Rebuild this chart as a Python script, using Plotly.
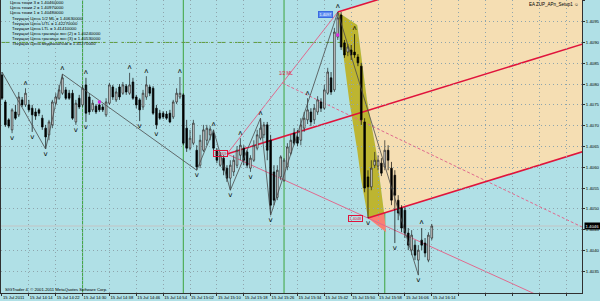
import numpy as np
import plotly.graph_objects as go
from datetime import datetime, timedelta

# ---------------- data (EURUSD-like M1, 15 Jul 2011 14:06 .. 16:14) ----------------
start_time = datetime(2011, 7, 15, 14, 6)

open_ = [1.40822, 1.40757, 1.40714, 1.40690, 1.40733, 1.40726, 1.40762, 1.40750, 1.40750, 1.40742,
         1.40733, 1.40738, 1.40718, 1.40694, 1.40678, 1.40702, 1.40754, 1.40766, 1.40778, 1.40786,
         1.40778, 1.40778, 1.40709, 1.40766, 1.40750, 1.40798, 1.40769, 1.40738, 1.40747, 1.40750,
         1.40745, 1.40726, 1.40754, 1.40793, 1.40762, 1.40793, 1.40778, 1.40795, 1.40778, 1.40805,
         1.40769, 1.40762, 1.40745, 1.40769, 1.40793, 1.40790, 1.40742, 1.40730, 1.40730, 1.40728,
         1.40730, 1.40721, 1.40757, 1.40769, 1.40774, 1.40694, 1.40646, 1.40658, 1.40641, 1.40605,
         1.40641, 1.40665, 1.40678, 1.40682, 1.40641, 1.40605, 1.40622, 1.40598, 1.40574, 1.40589,
         1.40605, 1.40629, 1.40646, 1.40637, 1.40598, 1.40617, 1.40646, 1.40670, 1.40678, 1.40702,
         1.40665, 1.40589, 1.40528, 1.40577, 1.40569, 1.40601, 1.40634, 1.40682, 1.40673, 1.40665,
         1.40694, 1.40714, 1.40733, 1.40714, 1.40733, 1.40757, 1.40742, 1.40778, 1.40815, 1.40786,
         1.40913, 1.40966, 1.40899, 1.40877, 1.40882, 1.40877, 1.40865, 1.40843, 1.40709, 1.40577,
         1.40553, 1.40605, 1.40603, 1.40610, 1.40601, 1.40641, 1.40598, 1.40581, 1.40521, 1.40502,
         1.40497, 1.40442, 1.40401, 1.40413, 1.40377, 1.40425, 1.40418, 1.40377, 1.40430]
high = [1.40829, 1.40762, 1.40718, 1.40742, 1.40750, 1.40781, 1.40769, 1.40790, 1.40762, 1.40750,
        1.40742, 1.40742, 1.40726, 1.40702, 1.40714, 1.40762, 1.40778, 1.40798, 1.40824, 1.40793,
        1.40786, 1.40786, 1.40762, 1.40774, 1.40798, 1.40815, 1.40778, 1.40762, 1.40752, 1.40757,
        1.40752, 1.40766, 1.40803, 1.40798, 1.40790, 1.40800, 1.40805, 1.40800, 1.40827, 1.40815,
        1.40774, 1.40766, 1.40786, 1.40819, 1.40798, 1.40795, 1.40750, 1.40738, 1.40735, 1.40735,
        1.40738, 1.40762, 1.40790, 1.40817, 1.40778, 1.40714, 1.40690, 1.40714, 1.40653, 1.40678,
        1.40702, 1.40702, 1.40699, 1.40690, 1.40646, 1.40637, 1.40629, 1.40605, 1.40617, 1.40629,
        1.40651, 1.40670, 1.40653, 1.40641, 1.40629, 1.40665, 1.40690, 1.40718, 1.40709, 1.40709,
        1.40678, 1.40605, 1.40605, 1.40629, 1.40622, 1.40658, 1.40678, 1.40694, 1.40690, 1.40718,
        1.40733, 1.40766, 1.40742, 1.40752, 1.40771, 1.40766, 1.40798, 1.40839, 1.40829, 1.40935,
        1.40973, 1.40973, 1.40906, 1.40896, 1.40894, 1.40920, 1.40872, 1.40851, 1.40718, 1.40593,
        1.40617, 1.40637, 1.40629, 1.40622, 1.40665, 1.40653, 1.40613, 1.40593, 1.40533, 1.40509,
        1.40504, 1.40454, 1.40449, 1.40425, 1.40413, 1.40454, 1.40430, 1.40444, 1.40464]
low = [1.40762, 1.40697, 1.40694, 1.40682, 1.40714, 1.40721, 1.40745, 1.40745, 1.40733, 1.40685,
       1.40714, 1.40723, 1.40690, 1.40644, 1.40665, 1.40694, 1.40750, 1.40762, 1.40774, 1.40762,
       1.40762, 1.40714, 1.40702, 1.40740, 1.40745, 1.40709, 1.40726, 1.40733, 1.40728, 1.40733,
       1.40733, 1.40721, 1.40750, 1.40762, 1.40757, 1.40762, 1.40774, 1.40774, 1.40774, 1.40762,
       1.40742, 1.40711, 1.40738, 1.40762, 1.40771, 1.40726, 1.40692, 1.40714, 1.40716, 1.40714,
       1.40706, 1.40716, 1.40752, 1.40764, 1.40653, 1.40637, 1.40641, 1.40653, 1.40593, 1.40598,
       1.40637, 1.40653, 1.40665, 1.40641, 1.40610, 1.40601, 1.40581, 1.40565, 1.40545, 1.40579,
       1.40598, 1.40617, 1.40605, 1.40598, 1.40589, 1.40613, 1.40641, 1.40665, 1.40670, 1.40617,
       1.40485, 1.40509, 1.40521, 1.40569, 1.40565, 1.40593, 1.40629, 1.40653, 1.40651, 1.40653,
       1.40685, 1.40704, 1.40699, 1.40704, 1.40726, 1.40733, 1.40738, 1.40774, 1.40774, 1.40781,
       1.40906, 1.40882, 1.40863, 1.40867, 1.40858, 1.40863, 1.40843, 1.40702, 1.40540, 1.40478,
       1.40545, 1.40598, 1.40593, 1.40579, 1.40593, 1.40593, 1.40509, 1.40418, 1.40473, 1.40444,
       1.40430, 1.40401, 1.40389, 1.40377, 1.40341, 1.40401, 1.40384, 1.40372, 1.40425]
close = [1.40766, 1.40702, 1.40699, 1.40738, 1.40718, 1.40769, 1.40750, 1.40778, 1.40738, 1.40726,
         1.40723, 1.40730, 1.40697, 1.40673, 1.40709, 1.40757, 1.40769, 1.40786, 1.40815, 1.40766,
         1.40766, 1.40718, 1.40754, 1.40745, 1.40790, 1.40730, 1.40733, 1.40754, 1.40733, 1.40738,
         1.40738, 1.40757, 1.40798, 1.40769, 1.40781, 1.40769, 1.40798, 1.40781, 1.40798, 1.40766,
         1.40750, 1.40738, 1.40778, 1.40798, 1.40778, 1.40730, 1.40702, 1.40718, 1.40721, 1.40718,
         1.40709, 1.40757, 1.40778, 1.40778, 1.40658, 1.40646, 1.40670, 1.40706, 1.40601, 1.40665,
         1.40690, 1.40694, 1.40692, 1.40646, 1.40617, 1.40629, 1.40593, 1.40574, 1.40605, 1.40617,
         1.40641, 1.40653, 1.40617, 1.40605, 1.40622, 1.40653, 1.40678, 1.40694, 1.40702, 1.40641,
         1.40509, 1.40521, 1.40593, 1.40625, 1.40617, 1.40649, 1.40665, 1.40658, 1.40658, 1.40702,
         1.40718, 1.40738, 1.40709, 1.40742, 1.40762, 1.40742, 1.40786, 1.40829, 1.40781, 1.40925,
         1.40959, 1.40889, 1.40870, 1.40889, 1.40870, 1.40870, 1.40851, 1.40714, 1.40550, 1.40553,
         1.40598, 1.40617, 1.40617, 1.40586, 1.40641, 1.40617, 1.40521, 1.40533, 1.40490, 1.40454,
         1.40442, 1.40413, 1.40437, 1.40389, 1.40401, 1.40413, 1.40394, 1.40437, 1.40459]

fractal_up_bars = [7, 18, 25, 38, 43, 53, 63, 71, 77, 91, 100, 105, 125]
fractal_down_bars = [3, 9, 13, 22, 25, 41, 46, 58, 68, 74, 80, 109, 117, 124]

zigzag_bars = [0, 13, 18, 58, 63, 68, 77, 80, 100, 124]
zigzag_is_high = [True, False, True, False, True, False, True, False, True, False]

session_bars = [24, 54, 84, 114]          # 14:30, 15:00, 15:30, 16:00
hline_level = 1.4090

p1_bar, p1_price = 67, 1.40632              # pitchfork point 1
p2_bar = 100                                # point 2 = high of this bar
p3_bar = 109                                # point 3 = low of this bar
half_ml_bar, half_ml_price = 128, 1.40630   # current 1/2 ML price

olive_left_bars = [103.4, 105.8, 107.0]
olive_left_prices = [1.40762, 1.40641, 1.40569]
olive_right_bars = [105.8, 108.7, 111.4]
olive_right_prices = [1.40942, 1.40762, 1.40641]
fan_end_bar = 113.8
salmon_tip_bar, salmon_tip_price = 114.4, 1.40444

magenta_bars = [29, 100]
magenta_prices = [1.40757, 1.40918]

price_ticks = [1.4035, 1.4040, 1.4045, 1.4050, 1.4055, 1.4060, 1.4065, 1.4070,
               1.4075, 1.4080, 1.4085, 1.4090, 1.4095, 1.4100]

info_lines = [
    "Цена точки 3 = 1.40460000",
    "Цена точки 2 = 1.40970000",
    "Цена точки 1 = 1.40480000",
    "Текущая Цена 1/2 ML = 1.40630000",
    "Текущая Цена UTL = 1.42270000",
    "Текущая Цена LTL = 1.41410000",
    "Текущая Цена границы зон (2) = 1.40240000",
    "Текущая Цена границы зон (3) = 1.40530000",
    "Текущая Цена медианы/sub = 1.41270000",
]

# ---------------- derived ----------------
n = len(close)
bars = np.arange(n)
p2_price = high[p2_bar]
p3_price = low[p3_bar]
mid23_bar = (p2_bar + p3_bar) / 2
mid23_price = (p2_price + p3_price) / 2
slope = (mid23_price - p1_price) / (mid23_bar - p1_bar)
far = 220


def tine(b0, p0, b):
    return p0 + slope * (b - b0)


def pt(b, p):
    return f"{b:.3f},{p:.6f}"


BG = "#B0E0E6"
CRIMSON = "#E0143C"
PINK = "#E06A8E"
GRID = "#8FA5AC"
PW, PH = 584, 293  # plot area in px

shapes = []
# wheat zone
wheat = ("M " + pt(p2_bar, p2_price) + " L " + pt(far, tine(p2_bar, p2_price, far)) +
         " L " + pt(far, tine(p3_bar, p3_price, far)) +
         " L " + pt(fan_end_bar, tine(p3_bar, p3_price, fan_end_bar)))
for b, p in zip(olive_right_bars[::-1], olive_right_prices[::-1]):
    wheat += " L " + pt(b, p)
wheat += " Z"
shapes.append(dict(type="path", path=wheat, fillcolor="#F5DEB3", line=dict(width=0), layer="below"))
# olive zone
olive = "M " + pt(p2_bar, p2_price)
for b, p in zip(olive_right_bars, olive_right_prices):
    olive += " L " + pt(b, p)
olive += " L " + pt(fan_end_bar, tine(p3_bar, p3_price, fan_end_bar)) + " L " + pt(p3_bar, p3_price)
for b, p in zip(olive_left_bars[::-1], olive_left_prices[::-1]):
    olive += " L " + pt(b, p)
olive += " Z"
shapes.append(dict(type="path", path=olive, fillcolor="#BDB531", line=dict(width=0), layer="below"))
# salmon triangle
salmon = ("M " + pt(p3_bar, p3_price) + " L " + pt(fan_end_bar, tine(p3_bar, p3_price, fan_end_bar)) +
          " L " + pt(salmon_tip_bar, salmon_tip_price) + " Z")
shapes.append(dict(type="path", path=salmon, fillcolor="#FA8072", line=dict(width=0), layer="below"))

# session separators
for b in session_bars:
    shapes.append(dict(type="line", xref="x", yref="paper", x0=b, x1=b, y0=0, y1=1,
                       line=dict(color="#3DA33D", width=1), layer="below"))
# dash-dot horizontal level
shapes.append(dict(type="line", xref="paper", yref="y", x0=0, x1=1, y0=hline_level, y1=hline_level,
                   line=dict(color="#5E9E3A", width=1, dash="dashdot"), layer="below"))
# bid line
shapes.append(dict(type="line", xref="paper", yref="y", x0=0, x1=1, y0=close[-1], y1=close[-1],
                   line=dict(color="#C4C4C4", width=1), layer="below"))

# thin lines
slope13 = (p3_price - p1_price) / (p3_bar - p1_bar)
mid12_bar = (p1_bar + p2_bar) / 2
mid12_price = (p1_price + p2_price) / 2
slope_half = (half_ml_price - mid12_price) / (half_ml_bar - mid12_bar)
shapes.append(dict(type="line", x0=p1_bar, y0=p1_price, x1=p2_bar, y1=p2_price,
                   line=dict(color=PINK, width=1), layer="below"))
shapes.append(dict(type="line", x0=p1_bar, y0=p1_price, x1=far, y1=p1_price + slope13 * (far - p1_bar),
                   line=dict(color=PINK, width=1), layer="below"))
shapes.append(dict(type="line", x0=mid12_bar, y0=mid12_price, x1=far,
                   y1=mid12_price + slope_half * (far - mid12_bar),
                   line=dict(color=PINK, width=1, dash="3px,2px"), layer="below"))
# pitchfork: median + tines
for b0, p0 in [(p1_bar, p1_price), (p2_bar, p2_price), (p3_bar, p3_price)]:
    shapes.append(dict(type="line", x0=b0, y0=p0, x1=far, y1=tine(b0, p0, far),
                       line=dict(color=CRIMSON, width=1.6), layer="below"))

fig = go.Figure()

# zigzag
zz_prices = [high[b] if h else low[b] for b, h in zip(zigzag_bars, zigzag_is_high)]
fig.add_trace(go.Scatter(x=zigzag_bars, y=zz_prices, mode="lines",
                         line=dict(color="#4A4A4A", width=0.8), hoverinfo="skip"))

fig.add_trace(go.Candlestick(
    x=bars, open=open_, high=high, low=low, close=close,
    increasing=dict(fillcolor="#E4E4E4", line=dict(color="#222222", width=0.7)),
    decreasing=dict(fillcolor="#000000", line=dict(color="#000000", width=0.7)),
    whiskerwidth=0))

# fractal arrows
fig.add_trace(go.Scatter(x=fractal_up_bars, y=[high[b] + 0.00013 for b in fractal_up_bars],
                         mode="text", text=["ʌ"] * len(fractal_up_bars),
                         textfont=dict(size=7, color="black", family="DejaVu Sans")))
fig.add_trace(go.Scatter(x=fractal_down_bars, y=[low[b] - 0.00013 for b in fractal_down_bars],
                         mode="text", text=["v"] * len(fractal_down_bars),
                         textfont=dict(size=7, color="black", family="DejaVu Sans")))
fig.add_trace(go.Scatter(x=magenta_bars, y=magenta_prices, mode="markers",
                         marker=dict(color="#E020E0", size=3, symbol="square")))

# axes
tick_bars = list(range(0, 176, 8))
ticktext = []
for b in tick_bars:
    if b >= n:
        ticktext.append("")
    elif b == 0:
        ticktext.append(start_time.strftime("%d %b %Y").lstrip("0"))
    else:
        t = start_time + timedelta(minutes=b)
        ticktext.append(t.strftime("%d %b %H:%M").lstrip("0"))

x0 = -1 / 3.375
x1 = (PW - 1) / 3.375
ylo, yhi = 1.40298, 1.41002

annotations = []
FONT = "Liberation Sans"
for i, line in enumerate(info_lines):
    px = 7 if i < 3 else 9
    py = 2.8 + 5.1 * i
    annotations.append(dict(xref="paper", yref="paper", x=px / PW, y=1 - py / PH, text=line,
                            showarrow=False, xanchor="left", yanchor="middle",
                            font=dict(size=4.3, family=FONT, color="black")))
annotations.append(dict(xref="paper", yref="paper", x=583 / PW, y=1 - 4.5 / PH,
                        text="EA ZUP_APn_Setup1 ☺", showarrow=False, xanchor="right", yanchor="middle",
                        font=dict(size=4.5, family=FONT, color="black")))
annotations.append(dict(xref="paper", yref="paper", x=2 / PW, y=1 - 289 / PH,
                        text="SIGTrader 4, © 2001-2011 MetaQuotes Software Corp.", showarrow=False,
                        xanchor="left", yanchor="middle", font=dict(size=4.2, family=FONT, color="black")))
annotations.append(dict(x=mid12_bar, y=mid12_price, text="1/2 ML", showarrow=False, yshift=10, xshift=4,
                        font=dict(size=4.5, family=FONT, color=CRIMSON)))
annotations.append(dict(x=p1_bar, y=p1_price, text="1.4063", showarrow=False, xanchor="right",
                        xshift=1, font=dict(size=3.8, family=FONT, color=CRIMSON),
                        bordercolor=CRIMSON, borderwidth=1, borderpad=0.5))
annotations.append(dict(x=p3_bar, y=p3_price, text="1.4048", showarrow=False, xanchor="right",
                        xshift=-5, font=dict(size=3.8, family=FONT, color=CRIMSON),
                        bordercolor=CRIMSON, borderwidth=1, borderpad=0.5))
annotations.append(dict(x=p2_bar, y=p2_price, text="1.4097", showarrow=False, xanchor="right",
                        xshift=-5, yshift=-2, font=dict(size=3.8, family=FONT, color="white"),
                        bgcolor="#5A8CF0", bordercolor="#3A6AE0", borderwidth=1, borderpad=0.5))
annotations.append(dict(xref="paper", yref="y", x=1.0, y=close[-1], text=f"{close[-1]:.4f}",
                        showarrow=False, xanchor="left", xshift=2,
                        font=dict(size=4.3, family=FONT, color="white"), bgcolor="black", borderpad=0.5))

fig.update_layout(
    width=600, height=301,
    margin=dict(l=0, r=16, t=0, b=8, pad=0),
    paper_bgcolor=BG, plot_bgcolor=BG,
    showlegend=False,
    font=dict(family=FONT, size=5, color="black"),
    shapes=shapes,
    annotations=annotations,
    xaxis=dict(range=[x0, x1], tickvals=tick_bars, ticktext=ticktext, tickangle=0, showgrid=True,
               gridcolor=GRID, griddash="1px,3px", gridwidth=1, zeroline=False,
               showline=True, linecolor="#303030", linewidth=1, ticks="outside", ticklen=2,
               tickcolor="#303030", tickfont=dict(size=4.2, family=FONT),
               ticklabelposition="outside right", rangeslider=dict(visible=False)),
    yaxis=dict(range=[ylo, yhi], side="right", tickvals=price_ticks,
               ticktext=[f"{v:.4f}" for v in price_ticks], showgrid=True,
               gridcolor=GRID, griddash="1px,3px", gridwidth=1, zeroline=False,
               showline=True, mirror=True, linecolor="#303030", linewidth=1, ticks="outside",
               ticklen=2, tickcolor="#303030", tickfont=dict(size=4.3, family=FONT)),
)

fig.write_html("out.html")
